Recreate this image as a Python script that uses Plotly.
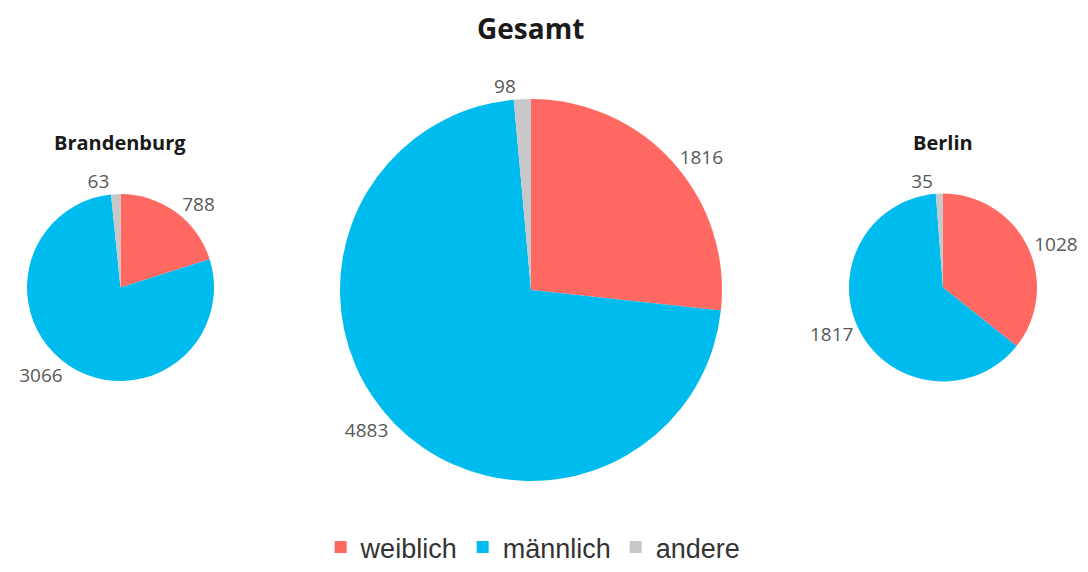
import plotly.graph_objects as go

# Data
labels = ["weiblich", "männlich", "andere"]
brandenburg = [788, 3066, 63]
gesamt = [1816, 4883, 98]
berlin = [1028, 1817, 35]
colors = ["#FF6961", "#00BCEE", "#C8C8C8"]

W, H = 1088, 572


def px_domain(x0, x1, y0, y1):
    # convert pixel box to paper domain
    return dict(x=[x0 / W, x1 / W], y=[1 - y1 / H, 1 - y0 / H])


def make_pie(values, domain, show_legend):
    return go.Pie(
        labels=labels, values=values, domain=domain,
        sort=False, direction="clockwise", rotation=0,
        marker=dict(colors=colors, line=dict(width=0)),
        textinfo="value", textposition="outside",
        textfont=dict(family="Open Sans", size=19, color="#595959"),
        showlegend=show_legend, hoverinfo="label+value+percent",
    )


fig = go.Figure()
fig.add_trace(make_pie(brandenburg, px_domain(27, 214, 193, 382), True))
fig.add_trace(make_pie(gesamt, px_domain(340, 722, 98, 482), True))
fig.add_trace(make_pie(berlin, px_domain(849, 1037, 193, 382), True))

titles = [("Gesamt", 530, 28, 28), ("Brandenburg", 120, 142, 20), ("Berlin", 943, 142, 20)]
for text, x, y, size in titles:
    fig.add_annotation(
        text=f"<b>{text}</b>", x=x / W, y=1 - y / H, xref="paper", yref="paper",
        showarrow=False, xanchor="center", yanchor="middle",
        font=dict(family="Open Sans", size=size, color="#1a1a1a"),
    )

fig.update_layout(
    width=W, height=H,
    margin=dict(l=0, r=0, t=0, b=0),
    paper_bgcolor="white", plot_bgcolor="white",
    legend=dict(
        orientation="h", x=0.49, xanchor="center", y=0, yanchor="bottom",
        font=dict(family="Liberation Sans", size=27, color="#333333"),
        itemwidth=30, traceorder="normal",
    ),
)

# drop the default body margin so the figure sits at the window's corner
fig.write_html("out.html", config={"displayModeBar": False},
               post_script="document.body.style.margin='0';")
